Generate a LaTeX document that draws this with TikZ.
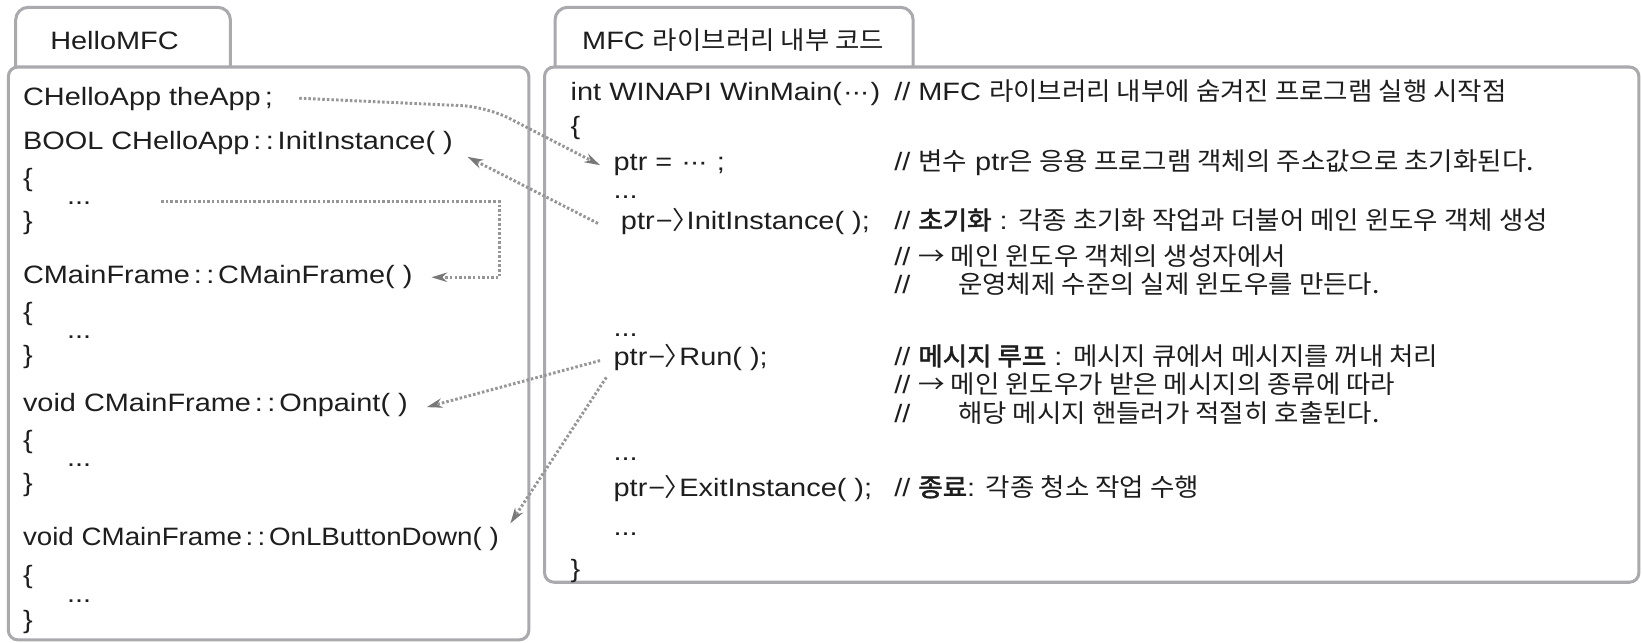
\documentclass[tikz,border=0pt]{standalone}
\usepackage{fontspec}
\usepackage{graphicx}
\setmainfont{Liberation Sans}[FakeStretch=1.15]
\newfontfamily\krfont{Noto Sans CJK KR}[Scale=1.0,FakeStretch=1.055]
\newfontfamily\krbfont{Noto Sans CJK KR}[Scale=1.0,FakeStretch=1.055,FakeBold=2.2]
\newcommand\kr[1]{{\krfont #1}}
\newcommand\krb[1]{{\krbfont #1}}
\newcommand\dcolon{\kern1.8pt:\kern2.2pt:\kern1.8pt}
\newcommand\arr{\kern0.5pt−\kern-0.3pt{\krfont 〉}\kern-0.47em}
\newcommand\mdots{\kern0.5pt·\kern-0.6pt·\kern-0.6pt·\kern0.5pt}
\usetikzlibrary{arrows.meta,calc}
\definecolor{boxgray}{RGB}{170,170,174}
\definecolor{dotgray}{RGB}{150,150,150}
\definecolor{tipgray}{RGB}{120,120,120}
\definecolor{ink}{RGB}{30,30,30}
\begin{document}
\begin{tikzpicture}[x=0.5pt,y=-0.5pt,
  txt/.style={anchor=base west, inner sep=0pt, outer sep=0pt, font=\fontsize{12pt}{14pt}\selectfont, text=ink},
  frame/.style={draw=boxgray, line width=1.45pt, fill=white, rounded corners=4.5pt},
  tabframe/.style={draw=boxgray, line width=1.45pt, fill=white, rounded corners=6pt},
  conn/.style={draw=dotgray, line width=1.4pt, dash pattern=on 1.2pt off 1pt,
    -{Stealth[length=7.5pt,width=4.5pt,fill=tipgray,color=tipgray]}},
]
\useasboundingbox[fill=white] (0,0) rectangle (1568,614);

% tabs and frames
\draw[tabframe] (15,66) -- (15,7) -- (220,7) -- (220,66);
\draw[frame] (8,64) rectangle (505,611);
\draw[tabframe] (530,66) -- (530,7) -- (872,7) -- (872,66);
\draw[frame] (520,64) rectangle (1565,556);

\node[txt] (tabL) at (48,47) {HelloMFC};
\node[txt] (tabR) at (556,47) {MFC \kr{라이브러리 내부 코드}};

% left code
\node[txt] (theApp) at (22,101) {CHelloApp theApp\,;};
\node[txt] (initL) at (22,143) {BOOL CHelloApp\dcolon InitInstance( )};
\node[txt] (b1o) at (22,178) {\{};
\node[txt] (d1) at (64,195) {...};
\node[txt] (b1c) at (22,219) {\}};
\node[txt] (cmf) at (22,271) {CMainFrame\dcolon CMainFrame( )};
\node[txt] (b2o) at (22,306) {\{};
\node[txt] (d2) at (64,323) {...};
\node[txt] (b2c) at (22,347) {\}};
\node[txt] (onp) at (22,393) {void CMainFrame\dcolon Onpaint( )};
\node[txt] (b3o) at (22,428) {\{};
\node[txt] (d3) at (64,445) {...};
\node[txt] (b3c) at (22,469) {\}};
\node[txt] (onl) at (22,521) {\scalebox{0.96}[1]{void CMainFrame\dcolon OnLButtonDown( )}};
\node[txt] (b4o) at (22,557) {\{};
\node[txt] (d4) at (64,575) {...};
\node[txt] (b4c) at (22,600) {\}};

% right code
\node[txt] (winmain) at (545,96) {int WINAPI WinMain(\mdots)};
\node[txt] (rb1) at (545,128) {\{};
\node[txt] (ptrA) at (586,163) {ptr = \mdots~;};
\node[txt] (rd1) at (586,190) {...};
\node[txt] (ptrI) at (593,219) {ptr\arr InitInstance( );};
\node[txt] (rd2) at (586,321) {...};
\node[txt] (ptrR) at (586,349) {ptr\arr Run( );};
\node[txt] (rd3) at (586,440) {...};
\node[txt] (ptrE) at (586,474) {ptr\arr ExitInstance( );};
\node[txt] (rd4) at (586,511) {...};
\node[txt] (rb2) at (545,551) {\}};

% comments
\node[txt] (c1) at (854,96) {// MFC \kr{라이브러리 내부에 숨겨진 프로그램 실행 시작점}};
\node[txt] (c2) at (854,163) {// \kr{변수} ptr\kr{은 응용 프로그램 객체의 주소값으로 초기화된다.}};
\node[txt] (c3) at (854,219) {// \krb{초기화} : \kr{각종 초기화 작업과 더불어 메인 윈도우 객체 생성}};
\node[txt] (c3b) at (854,254) {// \kr{→ 메인 윈도우 객체의 생성자에서}};
\node[txt] (c3c) at (854,280) {\makebox[30.5pt][l]{//}\kr{운영체제 수준의 실제 윈도우를 만든다.}};
\node[txt] (c4) at (854,349) {// \krb{메시지 루프} : \kr{메시지 큐에서 메시지를 꺼내 처리}};
\node[txt] (c4b) at (854,376) {// \kr{→ 메인 윈도우가 받은 메시지의 종류에 따라}};
\node[txt] (c4c) at (854,403) {\makebox[30.5pt][l]{//}\kr{해당 메시지 핸들러가 적절히 호출된다.}};
\node[txt] (c5) at (854,474) {// \krb{종료}: \kr{각종 청소 작업 수행}};

% connectors
\coordinate (a1b) at (465,102);
\draw[conn, rounded corners=12pt] ($(theApp.east)+(25,-1)$) -- (a1b) -- ($(ptrA.west)+(-13,0)$);
\draw[conn] ($(ptrI.west)+(-22,2)$) -- ($(initL.east)+(14,13)$);
\draw[conn] ($(d1.east)+(67,-1)$) -| ($(cmf.east)+(83,0)$) -- ($(cmf.east)+(18,0)$);
\draw[conn] ($(ptrR.west)+(-13,3)$) -- ($(onp.east)+(18,2)$);
\draw[conn] ($(ptrR.west)+(-7,19)$) -- ($(onl.east)+(11,-15)$);
\end{tikzpicture}
\end{document}
